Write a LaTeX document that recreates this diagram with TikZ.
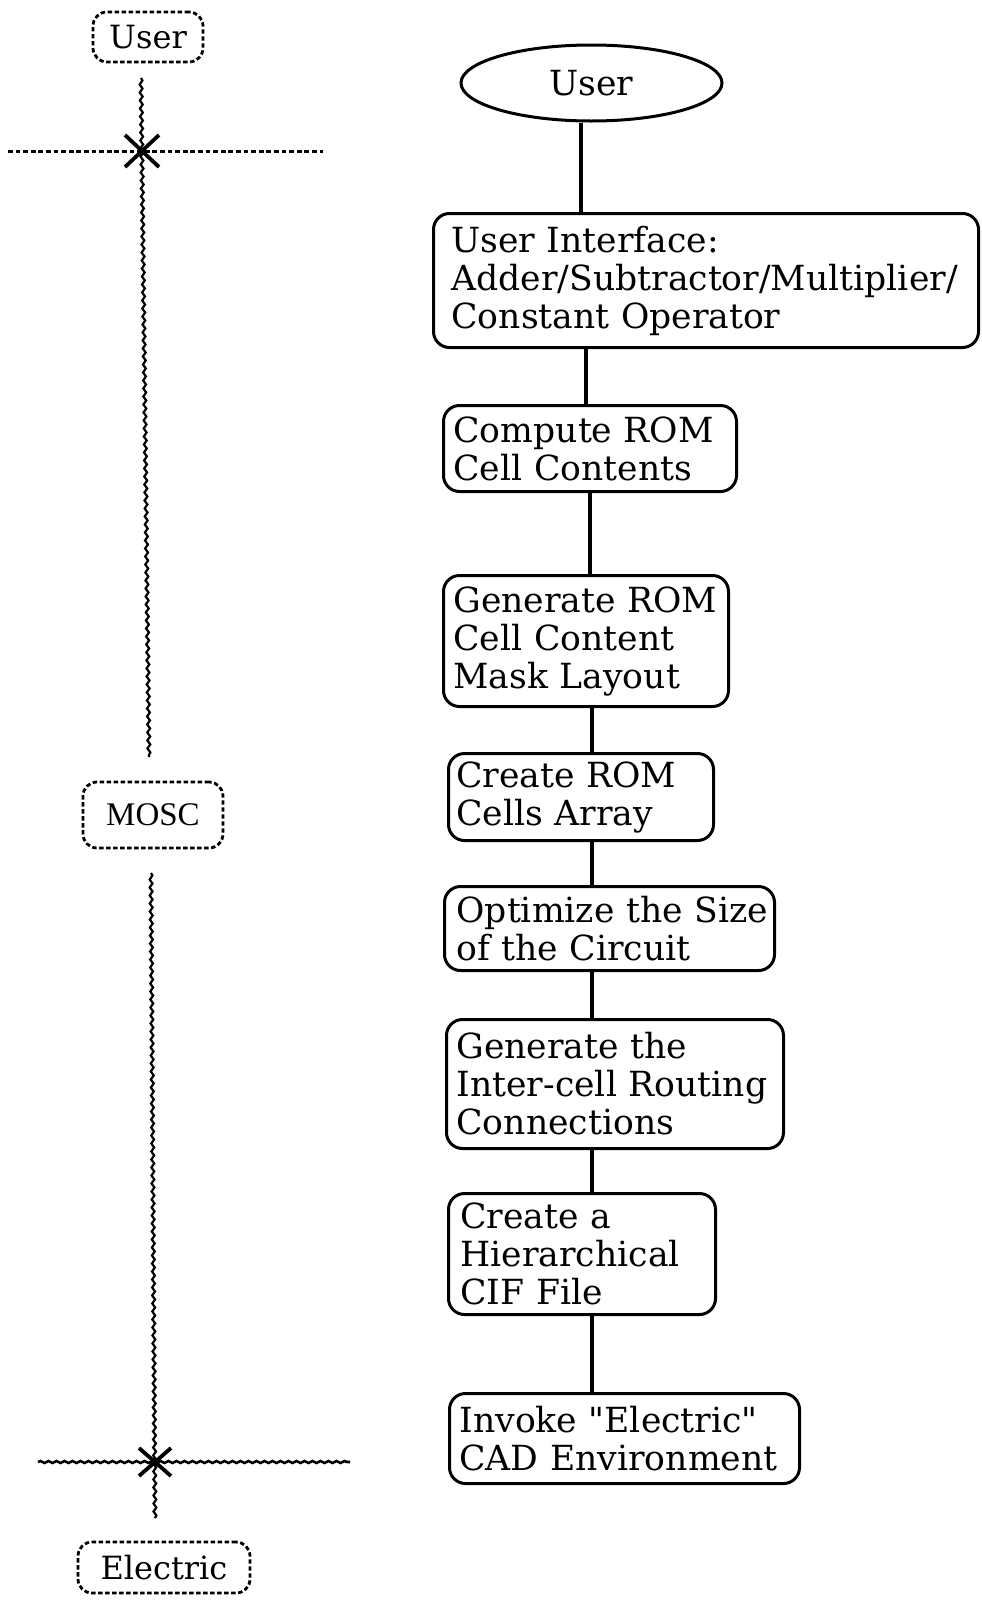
\documentclass[tikz,border=0pt]{standalone}
\usepackage{fontspec}
\setmainfont{DejaVu Serif}
\newfontfamily\plainserif{DejaVu Serif}
\newfontfamily\moscfont{Liberation Serif}
\usetikzlibrary{shapes.geometric,decorations.pathmorphing,calc}
\begin{document}
\begin{tikzpicture}[x=0.5pt,y=-0.5pt,
  stepbox/.style={draw, line width=1.5pt, rounded corners=8pt, anchor=north west,
    align=left, inner xsep=5pt, inner ysep=1pt, font=\plainserif\fontsize{17.3}{19}\selectfont},
  userell/.style={draw, ellipse, line width=1.5pt, inner sep=0pt,
    minimum width=130.5pt, minimum height=38pt, font=\plainserif\fontsize{17.3}{19}\selectfont},
  lanebox/.style={draw, line width=1.4pt, dash pattern=on 2.2pt off 1.3pt,
    rounded corners=7pt, inner sep=0pt},
  conn/.style={line width=1.9pt},
  lifeline/.style={line width=1.1pt, decorate,
    decoration={snake, amplitude=0.7pt, segment length=4pt}},
  boundary/.style={line width=1.5pt, dash pattern=on 2.4pt off 1.4pt},
  wavyboundary/.style={line width=1.3pt, decorate,
    decoration={snake, amplitude=0.5pt, segment length=4pt}},
  xmark/.style={line width=1.9pt}
]
\fill[white] (0,0) rectangle (981,1601);
\useasboundingbox (0,0) rectangle (981,1601);

% ---------- left lane ----------
\node[lanebox, minimum width=55pt, minimum height=25pt,
  font=\plainserif\fontsize{16}{18}\selectfont] (luser) at (148,37) {User};
\node[lanebox, minimum width=70pt, minimum height=33pt,
  font=\moscfont\fontsize{16.5}{18}\selectfont] (mosc) at (153,815) {MOSC};
\node[lanebox, minimum width=86pt, minimum height=25.5pt,
  font=\plainserif\fontsize{16}{18}\selectfont] (lelec) at (164,1567.5) {Electric};

\coordinate (v1) at (141,78);
\coordinate (x1) at (142,151);
\coordinate (v2) at (149,757);
\coordinate (v3) at (151,873);
\coordinate (x2) at (155,1462);
\coordinate (v4) at (155,1518);
\coordinate (h1l) at (8,151);
\coordinate (h1r) at (323,151);
\coordinate (h2l) at (38,1462);
\coordinate (h2r) at (350,1462);

\draw[lifeline] (v1) -- (v2);
\draw[lifeline] (v3) -- (v4);
\draw[boundary] (h1l) -- (h1r);
\draw[wavyboundary] (h2l) -- (h2r);

\draw[xmark] ($(x1)+(-17,-16)$) -- ($(x1)+(17,16)$);
\draw[xmark] ($(x1)+(-17,16)$) -- ($(x1)+(17,-16)$);
\draw[xmark] ($(x2)+(-16,-14)$) -- ($(x2)+(16,14)$);
\draw[xmark] ($(x2)+(-16,14)$) -- ($(x2)+(16,-14)$);

% ---------- main flow ----------
\node[userell] (ell) at (591.5,83) {User};

\node[stepbox, inner xsep=9pt, text width=254.5pt, minimum height=67pt] (ui) at (432,212)
  {\mbox{User Interface:}\\Adder/Subtractor/Multiplier/\\\mbox{Constant Operator}};
\node[stepbox, text width=136.5pt, minimum height=43pt] (comp) at (442,404)
  {\mbox{Compute ROM}\\\mbox{Cell Contents}};
\node[stepbox, text width=132.5pt, minimum height=65.5pt] (mask) at (442,574)
  {\mbox{Generate ROM}\\\mbox{Cell Content}\\\mbox{Mask Layout}};
\node[stepbox, inner xsep=4pt, text width=124.5pt, minimum height=43.5pt] (cells) at (447,752)
  {\mbox{Create ROM}\\\mbox{Cells Array}};
\node[stepbox, inner xsep=6pt, text width=153pt, minimum height=42pt] (opt) at (443,885)
  {\mbox{Optimize the Size}\\\mbox{of the Circuit}};
\node[stepbox, text width=158.5pt, minimum height=64.5pt] (route) at (445,1018)
  {\mbox{Generate the}\\\mbox{Inter-cell Routing}\\Connections};
\node[stepbox, inner xsep=6pt, text width=121.5pt, minimum height=60.5pt] (cif) at (447,1192)
  {\mbox{Create a}\\Hierarchical\\\mbox{CIF File}};
\node[stepbox, text width=165pt, minimum height=45pt] (cad) at (448,1392)
  {\mbox{Invoke "Electric"}\\\mbox{CAD Environment}};

\coordinate (s1) at (581,0);
\coordinate (s2) at (586,0);
\coordinate (s3) at (590,0);
\coordinate (s4) at (592,0);

\draw[conn] (ell.south -| s1) -- (ui.north -| s1);
\draw[conn] (ui.south -| s2) -- (comp.north -| s2);
\draw[conn] (comp.south -| s3) -- (mask.north -| s3);
\draw[conn] (mask.south -| s4) -- (cells.north -| s4);
\draw[conn] (cells.south -| s4) -- (opt.north -| s4);
\draw[conn] (opt.south -| s4) -- (route.north -| s4);
\draw[conn] (route.south -| s4) -- (cif.north -| s4);
\draw[conn] (cif.south -| s4) -- (cad.north -| s4);
\end{tikzpicture}
\end{document}
